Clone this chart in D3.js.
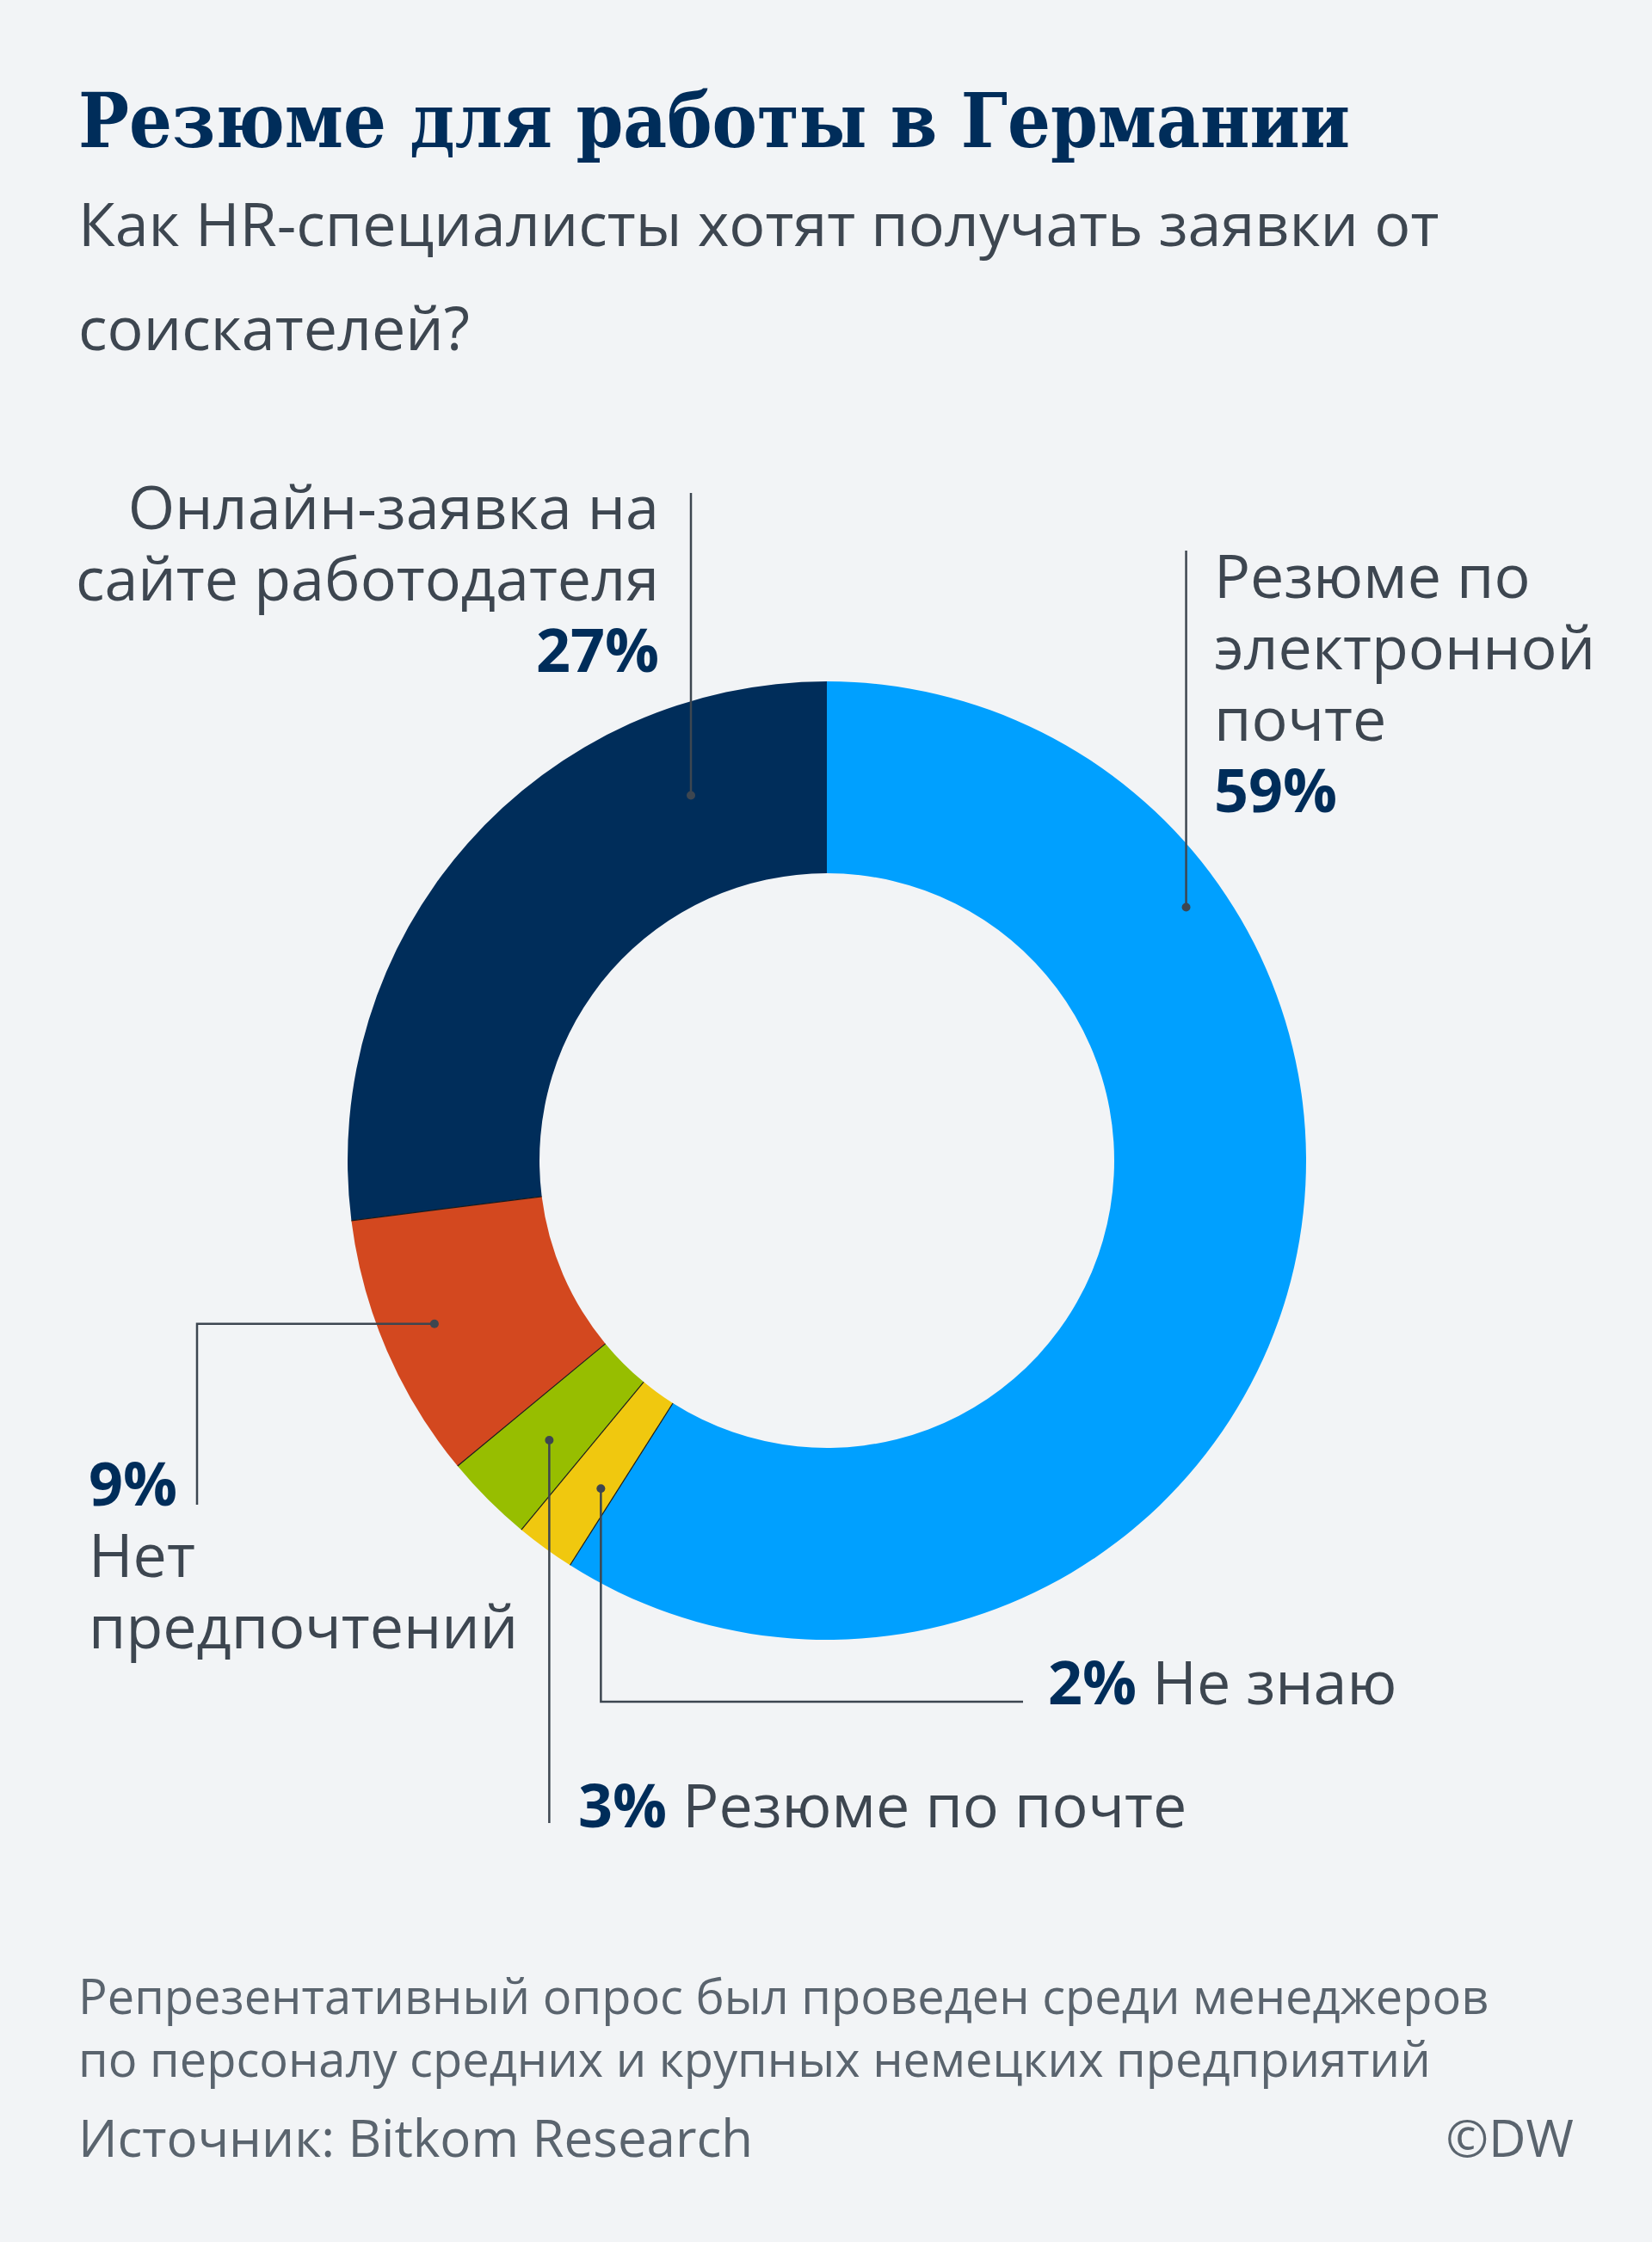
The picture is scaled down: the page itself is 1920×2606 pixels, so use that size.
<!DOCTYPE html>
<html>
<head>
<meta charset="utf-8">
<script src="https://cdn.jsdelivr.net/npm/d3@7"></script>
<style>
  html, body { margin: 0; padding: 0; background: #f2f4f6; }
  svg { display: block; }
</style>
</head>
<body>
<svg id="chart" width="1920" height="2606"></svg>
<script>
// данные опроса, по часовой стрелке от 12 часов
const categories = ["Резюме по электронной почте", "Не знаю", "Резюме по почте", "Нет предпочтений", "Онлайн-заявка на сайте работодателя"];
const values = [59, 2, 3, 9, 27];
const labelLines = [
  ["Резюме по", "электронной", "почте"],
  ["Не знаю"],
  ["Резюме по почте"],
  ["Нет", "предпочтений"],
  ["Онлайн-заявка на", "сайте работодателя"]
];
const colors = ["#00a0ff", "#f0c80f", "#97be00", "#d3481f", "#002d5a"];

const titleText = "Резюме для работы в Германии";
const subtitleLines = ["Как HR-специалисты хотят получать заявки от", "соискателей?"];
const noteLines = ["Репрезентативный опрос был проведен среди менеджеров", "по персоналу средних и крупных немецких предприятий"];
const sourceText = "Источник: Bitkom Research";

const W = 1920, H = 2606;
const cx = 961, cy = 1349, rOuter = 557, rInner = 334;
const textGray = "#3d4650", navy = "#002d5a";
const sans = "'Open Sans', 'Noto Sans', sans-serif";

const svg = d3.select("#chart");
svg.append("rect").attr("width", W).attr("height", H).attr("fill", "#f2f4f6");

// заголовок
svg.append("text")
  .attr("x", 91).attr("y", 171)
  .attr("textLength", 1478).attr("lengthAdjust", "spacingAndGlyphs")
  .style("font-family", "'DejaVu Serif', serif")
  .style("font-weight", "bold")
  .style("font-size", "87px")
  .style("fill", navy)
  .text(titleText);

svg.append("g").selectAll("text")
  .data(subtitleLines)
  .enter().append("text")
  .attr("x", 91)
  .attr("y", (d, i) => 286 + i * 121)
  .style("font-family", sans)
  .style("font-size", "70px")
  .style("fill", textGray)
  .text(d => d);

// кольцевая диаграмма
const pie = d3.pie().value(d => d).sort(null);
const arcs = pie(values);
const arc = d3.arc().innerRadius(rInner).outerRadius(rOuter);

const g = svg.append("g").attr("transform", `translate(${cx},${cy})`);

g.selectAll("path")
  .data(arcs)
  .enter().append("path")
  .attr("d", arc)
  .attr("fill", (d, i) => colors[i]);

// тонкие разделители между сегментами
g.selectAll("line.sep")
  .data(arcs.filter(d => d.startAngle > 0))
  .enter().append("line")
  .attr("class", "sep")
  .attr("x1", d => rInner * Math.sin(d.startAngle))
  .attr("y1", d => -rInner * Math.cos(d.startAngle))
  .attr("x2", d => rOuter * Math.sin(d.startAngle))
  .attr("y2", d => -rOuter * Math.cos(d.startAngle))
  .attr("stroke", "#1b1b1b")
  .attr("stroke-width", 1.2);

// раскладка подписей: точка привязки (доля сегмента, радиус) и ломаная выноска
const layout = [
  { at: 0.258, r: 511, leader: p => [[p[0], 640], p], x: 1411, y: 695, anchor: "start", pctFirst: false, inline: false },
  { at: 0.3, r: 463, leader: p => [p, [p[0], 1978], [1189, 1978]], x: 1218, y: 1981, anchor: "start", inline: true },
  { at: 0.48, r: 458, leader: p => [p, [p[0], 2119]], x: 672, y: 2124, anchor: "start", inline: true },
  { at: 0.525, r: 494, leader: p => [p, [229, p[1]], [229, 1749]], x: 103, y: 1750, anchor: "start", pctFirst: true, inline: false },
  { at: 0.79, r: 453, leader: p => [[p[0], 573], p], x: 766, y: 615, anchor: "end", pctFirst: false, inline: false }
];
const lineStep = 83;

const labels = svg.append("g");
arcs.forEach((d, i) => {
  const L = layout[i];
  const a = d.startAngle + (d.endAngle - d.startAngle) * L.at;
  const p = [cx + L.r * Math.sin(a), cy - L.r * Math.cos(a)];

  labels.append("path")
    .attr("d", d3.line()(L.leader(p)))
    .attr("fill", "none")
    .attr("stroke", textGray)
    .attr("stroke-width", 2.5);
  labels.append("circle")
    .attr("cx", p[0]).attr("cy", p[1]).attr("r", 5)
    .attr("fill", textGray);

  const pct = values[i] + "%";
  if (L.inline) {
    const t = labels.append("text")
      .attr("x", L.x).attr("y", L.y)
      .style("font-family", sans).style("font-size", "70px");
    t.append("tspan").style("font-weight", "bold").style("fill", navy).text(pct);
    t.append("tspan").style("fill", textGray).text(" " + labelLines[i][0]);
    return;
  }
  const rows = L.pctFirst
    ? [{ s: pct, b: true }].concat(labelLines[i].map(s => ({ s, b: false })))
    : labelLines[i].map(s => ({ s, b: false })).concat([{ s: pct, b: true }]);
  labels.append("g").selectAll("text")
    .data(rows)
    .enter().append("text")
    .attr("x", L.x)
    .attr("y", (r, j) => L.y + j * lineStep)
    .attr("text-anchor", L.anchor)
    .style("font-family", sans)
    .style("font-size", "70px")
    .style("font-weight", r => r.b ? "bold" : "normal")
    .style("fill", r => r.b ? navy : textGray)
    .text(r => r.s);
});

// примечание и источник
svg.append("g").selectAll("text")
  .data(noteLines)
  .enter().append("text")
  .attr("x", 91)
  .attr("y", (d, i) => 2341 + i * 73)
  .style("font-family", sans)
  .style("font-size", "56px")
  .style("fill", "#5a646e")
  .text(d => d);

svg.append("text")
  .attr("x", 91).attr("y", 2507)
  .style("font-family", sans).style("font-size", "60px")
  .style("fill", "#5a646e")
  .text(sourceText);

svg.append("text")
  .attr("x", 1829).attr("y", 2507)
  .attr("text-anchor", "end")
  .style("font-family", sans).style("font-size", "60px")
  .style("fill", "#5a646e")
  .text("©DW");
</script>
</body>
</html>
